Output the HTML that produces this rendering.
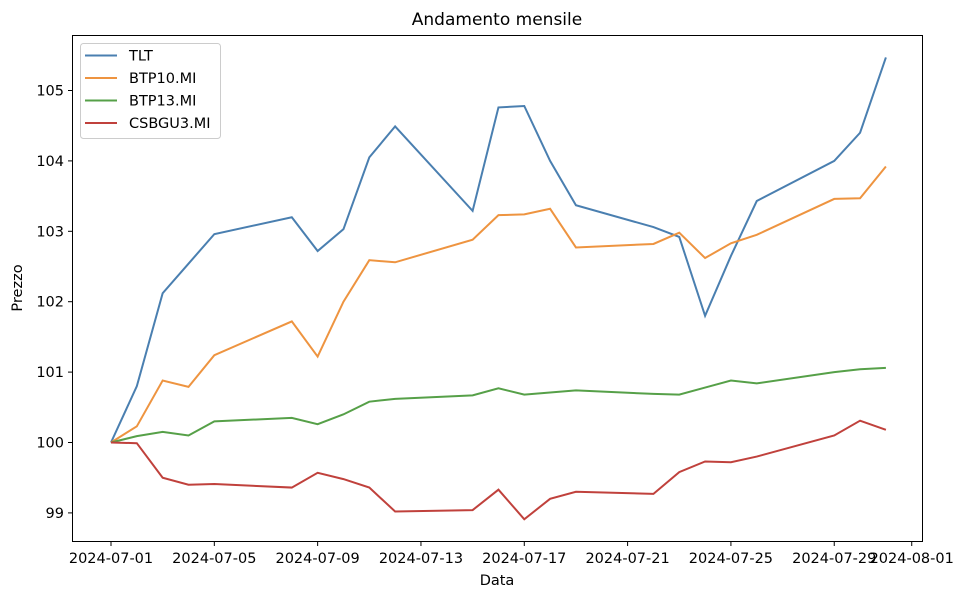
<!DOCTYPE html>
<html><head><meta charset="utf-8"><style>
body{margin:0;background:#fff;font-family:"Liberation Sans","DejaVu Sans",sans-serif;}
svg text{font-family:"DejaVu Sans","Liberation Sans",sans-serif;fill:#000;}
</style></head><body>
<svg id="chart" width="964" height="600" viewBox="0 0 964 600" xmlns="http://www.w3.org/2000/svg">
<rect width="964" height="600" fill="#fff"/>
<text x="497" y="25" font-size="17" text-anchor="middle">Andamento mensile</text>
<rect x="72.5" y="35.5" width="850" height="506" fill="none" stroke="#000" stroke-width="1"/>
<g id="xticks"></g>
<g id="yticks"></g>
<g id="series"></g>
<text x="497" y="585" font-size="14.5" text-anchor="middle">Data</text>
<text transform="translate(22,288) rotate(-90)" font-size="14.5" text-anchor="middle">Prezzo</text>
<g>
<rect x="80.5" y="43.5" width="140" height="95" rx="3" fill="#fff" fill-opacity="0.8" stroke="#ccc"/>
<g id="legend-items"></g>
</g>
</svg>
<script>
const days = [1,2,3,4,5,8,9,10,11,12,15,16,17,18,19,22,23,24,25,26,29,30,31];
const seriesNames = ["TLT","BTP10.MI","BTP13.MI","CSBGU3.MI"];
const seriesColors = ["#4a7fb0","#ee9440","#56a048","#c0413c"];
const tlt = [100,100.8,102.12,102.54,102.96,103.2,102.72,103.03,104.05,104.49,103.29,104.76,104.78,104.0,103.37,103.06,102.92,101.8,102.65,103.43,104.0,104.4,105.47];
const btp10 = [100,100.23,100.88,100.79,101.24,101.72,101.22,102.0,102.59,102.56,102.88,103.23,103.24,103.32,102.77,102.82,102.98,102.62,102.83,102.95,103.46,103.47,103.92];
const btp13 = [100,100.09,100.15,100.1,100.3,100.35,100.26,100.4,100.58,100.62,100.67,100.77,100.68,100.71,100.74,100.69,100.68,100.78,100.88,100.84,101.0,101.04,101.06];
const csbgu3 = [100,99.99,99.5,99.4,99.41,99.36,99.57,99.48,99.36,99.02,99.04,99.33,98.91,99.2,99.3,99.27,99.58,99.73,99.72,99.8,100.1,100.31,100.18];
const xTickDays = [1,5,9,13,17,21,25,29,32];
const xTickLabels = ["2024-07-01","2024-07-05","2024-07-09","2024-07-13","2024-07-17","2024-07-21","2024-07-25","2024-07-29","2024-08-01"];
const yTicks = [99,100,101,102,103,104,105];
const allSeries = [tlt,btp10,btp13,csbgu3];
const NS="http://www.w3.org/2000/svg";
function x(d){return 111 + (d-1)*25.83;}
function y(v){return 442.5 - (v-100)*70.4;}
const xg=document.getElementById('xticks');
xTickDays.forEach((d,i)=>{
  const l=document.createElementNS(NS,'line');
  
  
  l.setAttribute('x1',x(d));l.setAttribute('x2',x(d));l.setAttribute('y1',542);l.setAttribute('y2',546);l.setAttribute('stroke','#000');
  xg.appendChild(l);
  const t=document.createElementNS(NS,'text');
  
  
  t.setAttribute('x',x(d));t.setAttribute('y',563);t.setAttribute('font-size','14.5');t.setAttribute('text-anchor','middle');
  t.textContent=xTickLabels[i];xg.appendChild(t);
});
const yg=document.getElementById('yticks');
yTicks.forEach(v=>{
  const l=document.createElementNS(NS,'line');
  
  
  l.setAttribute('x1',68);l.setAttribute('x2',72.5);l.setAttribute('y1',y(v));l.setAttribute('y2',y(v));l.setAttribute('stroke','#000');
  yg.appendChild(l);
  const t=document.createElementNS(NS,'text');
  
  
  t.setAttribute('x',64);t.setAttribute('y',y(v)+5);t.setAttribute('font-size','14.5');t.setAttribute('text-anchor','end');
  t.textContent=v;yg.appendChild(t);
});
const sg=document.getElementById('series');
const lg=document.getElementById('legend-items');
allSeries.forEach((s,i)=>{
  const p=document.createElementNS(NS,'polyline');
  
  
  p.setAttribute('points',s.map((v,j)=>x(days[j])+','+y(v)).join(' '));
  p.setAttribute('fill','none');p.setAttribute('stroke',seriesColors[i]);p.setAttribute('stroke-width','2');
  sg.appendChild(p);
  const ly=55.5+i*22.5;
  const l=document.createElementNS(NS,'line');
  
  
  l.setAttribute('x1',85);l.setAttribute('x2',117);l.setAttribute('y1',ly);l.setAttribute('y2',ly);l.setAttribute('stroke',seriesColors[i]);l.setAttribute('stroke-width','2');
  lg.appendChild(l);
  const t=document.createElementNS(NS,'text');
  
  
  t.setAttribute('x',129);t.setAttribute('y',ly+5);t.setAttribute('font-size','14.5');
  t.textContent=seriesNames[i];lg.appendChild(t);
});
</script>
</body></html>
